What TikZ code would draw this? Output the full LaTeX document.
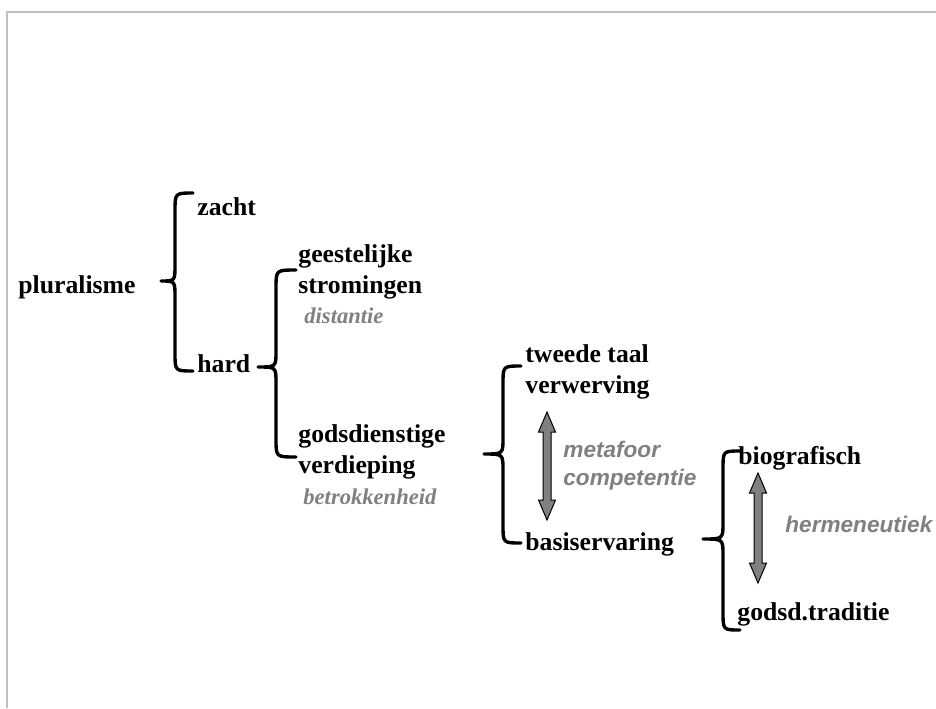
\documentclass[tikz,border=0pt]{standalone}
\usepackage{fontspec}
\setmainfont{Liberation Serif}
\newfontfamily\arialfont{Liberation Sans}
\usetikzlibrary{calc}
\definecolor{notegray}{RGB}{128,128,128}
\definecolor{framegray}{RGB}{192,192,192}
\definecolor{arrowgray}{RGB}{128,128,128}

% left curly brace: #1 x of the ends, #2 x of the spine, #3 x of the tip,
% #4 top y, #5 tip y, #6 bottom y
\newcommand{\curlybrace}[6]{%
  \draw[brace] (#1,#4) .. controls (#2,#4) .. (#2,#4+18) -- (#2,#5-16)
    .. controls (#2,#5) .. (#3,#5) .. controls (#2,#5) .. (#2,#5+16)
    -- (#2,#6-18) .. controls (#2,#6) .. (#1,#6);}

% vertical double-headed block arrow between two named coordinates
\newcommand{\blockarrow}[2]{%
  \draw[blockarrowstyle] (#1) -- ++(8.5,20) -- ++(-4.5,0) -- ($(#2)+(4,-20)$)
    -- ++(4.5,0) -- (#2) -- ++(-8.5,-20) -- ++(4.5,0) -- ($(#1)+(-4,20)$)
    -- ++(-4.5,0) -- cycle;}

\tikzset{
  term/.style={anchor=base west, inner sep=0pt, align=left,
    font=\bfseries\fontsize{12.85}{15.4}\selectfont},
  note/.style={anchor=base west, inner sep=0pt, align=left, text=notegray,
    font=\bfseries\itshape\fontsize{11.3}{14}\selectfont},
  sansnote/.style={anchor=base west, inner sep=0pt, align=left, text=notegray,
    font=\arialfont\bfseries\itshape\fontsize{11.3}{14}\selectfont},
  brace/.style={line width=1.7pt, line cap=round, line join=round},
  blockarrowstyle/.style={fill=arrowgray, draw=black, line width=0.5pt, line join=miter},
}

\begin{document}
\begin{tikzpicture}[x=0.5pt, y=-0.5pt]
  \useasboundingbox (0,0) rectangle (936,708);
  \fill[white] (0,0) rectangle (936,708);
  % frame edges
  \draw[framegray, line width=1pt] (7,708) -- (7,12) -- (936,12);

  % terms (two-line nodes are placed by the baseline of their last line)
  \node[term] (plur) at (18,293) {pluralisme};
  \node[term] (zacht) at (197,215) {zacht};
  \node[term] (hard) at (197,372) {hard};
  \node[term] (geest) at (298,293) {geestelijke\\stromingen};
  \node[note] (dist) at (304,323) {distantie};
  \node[term] (gods) at (298,473) {godsdienstige\\verdieping};
  \node[note] (betr) at (303,504) {betrokkenheid};
  \node[term] (twee) at (525,393) {tweede taal\\verwerving};
  \node[term] (basis) at (525,550) {basiservaring};
  \node[sansnote] (meta) at (563,485) {metafoor\\competentie};
  \node[term] (bio) at (738,464) {biografisch};
  \node[term] (trad) at (737,620) {godsd.traditie};
  \node[sansnote] (herm) at (785,532) {hermeneutiek};

  % braces
  \curlybrace{193}{175}{161}{193}{281}{371}
  \curlybrace{296}{276}{258}{270}{367}{457}
  \curlybrace{521}{503}{484}{366}{454}{543}
  \curlybrace{740}{723}{703}{451}{539}{630}

  % block arrows
  \coordinate (a1t) at (547,412);
  \coordinate (a1b) at (547,520);
  \coordinate (a2t) at (758,473);
  \coordinate (a2b) at (758,583);
  \blockarrow{a1t}{a1b}
  \blockarrow{a2t}{a2b}
\end{tikzpicture}
\end{document}
